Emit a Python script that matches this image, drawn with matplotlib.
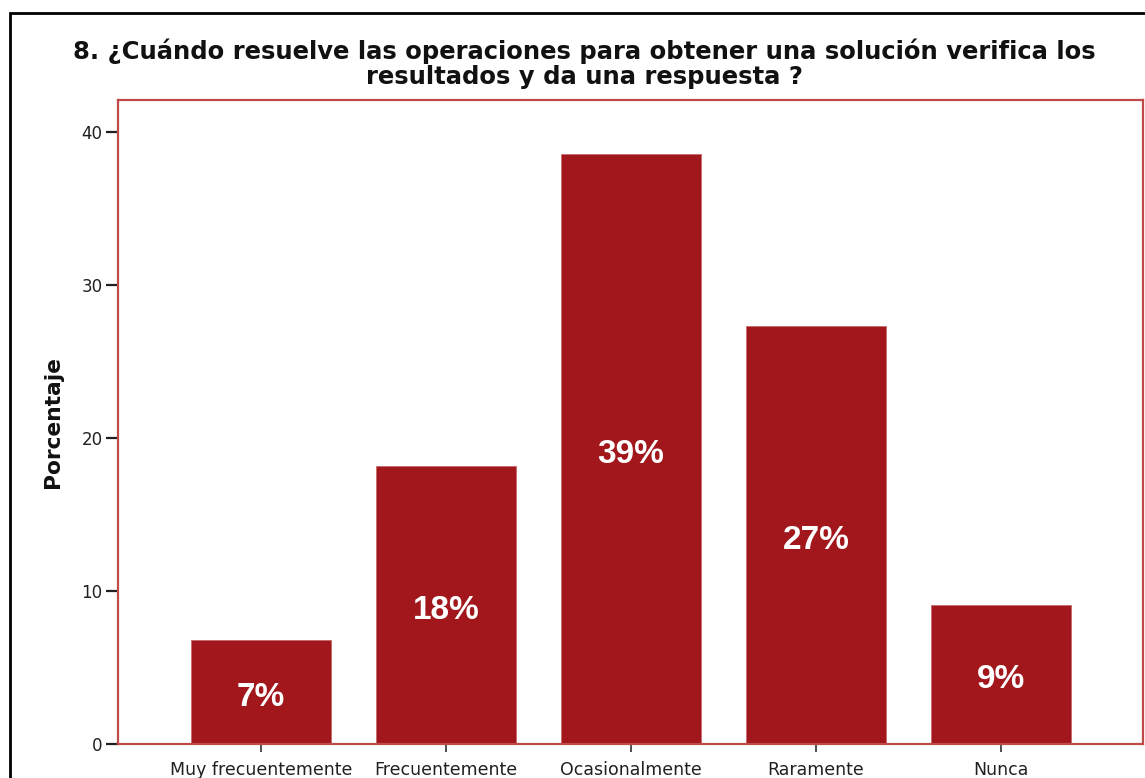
import matplotlib
matplotlib.use("Agg")
import matplotlib.pyplot as plt
from matplotlib.patches import Rectangle

# Dados da pergunta 8 (porcentagem de respostas)
categorias = ["Muy frecuentemente", "Frecuentemente", "Ocasionalmente", "Raramente", "Nunca"]
porcentagens = [6.8, 18.2, 38.6, 27.3, 9.1]
rotulos = ["7%", "18%", "39%", "27%", "9%"]
ticks_y = [0, 10, 20, 30, 40]

titulo = ("8. ¿Cuándo resuelve las operaciones para obtener una solución verifica los\n"
          "resultados y da una respuesta ?")

plt.rcParams['font.family'] = ['DejaVu Sans']

cor_barra = "#a1171b"
cor_eixo = "#c04a4a"

fig = plt.figure(figsize=(11.45, 7.78), dpi=100)
ax = fig.add_axes([118 / 1145, 1 - 744 / 778, 1025 / 1145, 644 / 778])

x = range(len(categorias))
ax.bar(x, porcentagens, width=0.757, color=cor_barra,
       edgecolor="#c46a6a", linewidth=0.6, zorder=2)

# Rótulos dentro das barras
for i, (v, r) in enumerate(zip(porcentagens, rotulos)):
    ax.text(i, v / 2 - 0.35, r, ha='center', va='center', color='white',
            fontsize=24, fontweight='bold', family='Liberation Sans', zorder=3)

ax.set_xlim(-0.773, 4.768)
ax.set_ylim(0, 42.1)
ax.set_xticks(list(x))
ax.set_xticklabels(categorias, fontsize=12.5, color='#202020')
ax.set_yticks(ticks_y)
ax.set_yticklabels([str(t) for t in ticks_y], fontsize=12, color='#202020')

ax.tick_params(axis='y', length=9, width=1.6, color='#202020', pad=2)
ax.tick_params(axis='x', length=6, width=1.2, color='#303030', pad=6.5)

for lado in ['left', 'right', 'top', 'bottom']:
    ax.spines[lado].set_color(cor_eixo)
    ax.spines[lado].set_linewidth(1.6)

ax.set_ylabel("Porcentaje", fontsize=15.7, fontweight='bold', color='#111111')
ax.yaxis.set_label_coords(-0.054, 0.5)

fig.text(584 / 1145, 1 - 64 / 778, titulo, ha='center', va='center',
         fontsize=17.5, fontweight='bold', color='#111111', linespacing=1.07)

# Moldura externa preta
fig.patches.append(Rectangle((10 / 1145, -0.1), 1.2, 1 - 13 / 778 + 0.1,
                             transform=fig.transFigure, fill=False,
                             edgecolor='black', linewidth=2))

fig.savefig("out.png", dpi=100)
